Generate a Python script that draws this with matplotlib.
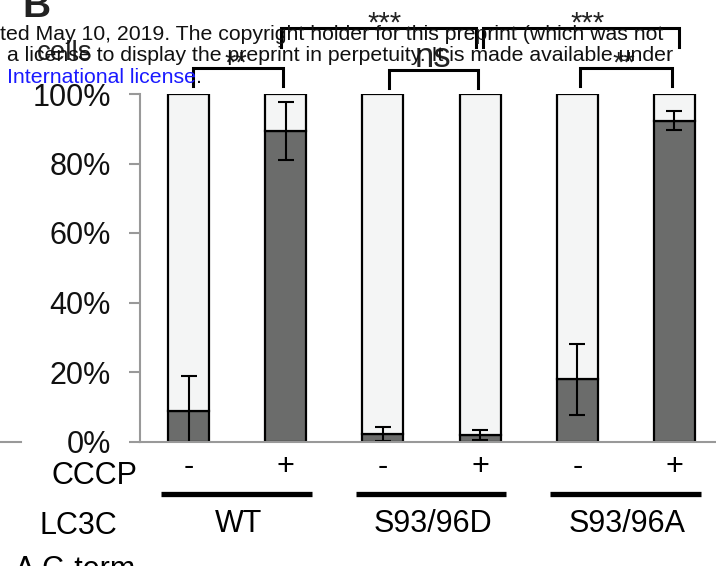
import matplotlib
matplotlib.use("Agg")
import matplotlib.pyplot as plt
from matplotlib.lines import Line2D

plt.rcParams['font.family'] = ['Liberation Sans', 'DejaVu Sans']

# Data
cccp = ['-', '+', '-', '+', '-', '+']
groups = ['WT', 'S93/96D', 'S93/96A']
dark_pct = [8.8, 89.4, 2.2, 1.9, 17.9, 92.3]
light_pct = [91.2, 10.6, 97.8, 98.1, 82.1, 7.7]
err_pct = [10.0, 8.3, 2.1, 1.5, 10.3, 2.7]
y_ticks = [0, 20, 40, 60, 80, 100]
y_labels = ['0%', '20%', '40%', '60%', '80%', '100%']
# significance brackets: left bar, right bar, label
sig_low = [(0, 1, '**'), (2, 3, 'ns'), (4, 5, '**')]
sig_high = [(1, 3, '***'), (3, 5, '***')]

W, H = 716, 566


def fx(px):
    return px / W


def fy(py):
    return 1 - py / H


fig = plt.figure(figsize=(W / 100, H / 100), dpi=100)
ax = fig.add_axes([fx(140), fy(441.5), fx(576), 347.5 / H])

x = list(range(len(cccp)))
ax.bar(x, dark_pct, width=0.42, color='#6b6c6b', edgecolor='black', linewidth=1.6, zorder=2)
ax.bar(x, light_pct, width=0.42, bottom=dark_pct, color='#f4f5f5', edgecolor='black',
       linewidth=1.6, zorder=2)
ax.errorbar(x, dark_pct, yerr=err_pct, fmt='none', ecolor='black', elinewidth=1.5,
            capsize=5.5, capthick=1.5, zorder=3)

ax.set_xlim(-0.499, 5.427)
ax.set_ylim(0, 100)
ax.set_xticks([])
ax.set_yticks(y_ticks)
ax.set_yticklabels(y_labels)
ax.tick_params(axis='y', length=8, width=1.5, color='#999999', pad=13, labelsize=22,
               labelcolor='#111111')
for s in ['top', 'right']:
    ax.spines[s].set_visible(False)
for s in ['left', 'bottom']:
    ax.spines[s].set_color('#999999')
    ax.spines[s].set_linewidth(1.5)
    ax.spines[s].set_zorder(4)

# significance brackets (lower row)
inset_low = [(0.045, -0.03), (0.06, -0.02), (0.03, -0.03)]
label_dx_low = [-0.01, 0.02, -0.025]
for (a, b, lab), (dl, dr), tdx in zip(sig_low, inset_low, label_dx_low):
    top = 106.9 if lab == 'ns' else 107.6
    ax.plot([a + dl, a + dl, b + dr, b + dr], [top - 5.3, top, top, top - 5.3],
            color='black', lw=2.2, clip_on=False, solid_joinstyle='miter')
    if lab == 'ns':
        ax.text((a + b) / 2 + tdx, 107.8, lab, ha='center', va='baseline', fontsize=25,
                color='#222222', clip_on=False)
    else:
        ax.text((a + b) / 2 + tdx, 106.6, lab, ha='center', va='baseline', fontsize=21,
                color='#222222', clip_on=False)

# significance brackets (upper row)
inset_high = [(-0.05, -0.04), (0.03, 0.05)]
label_dx_high = [0.02, 0.11]
for (a, b, lab), (dl, dr), tdx in zip(sig_high, inset_high, label_dx_high):
    ax.plot([a + dl, a + dl, b + dr, b + dr], [113.5, 118.9, 118.9, 113.5],
            color='black', lw=2.2, clip_on=False, solid_joinstyle='miter')
    ax.text((a + b) / 2 + tdx, 118.0, lab, ha='center', va='baseline', fontsize=21,
            color='#222222', clip_on=False)

# CCCP row
for xi, sign in zip(x, cccp):
    ax.text(xi, -7.2, sign, ha='center', va='center', fontsize=22, clip_on=False)
fig.text(fx(137), fy(484), 'CCCP', ha='right', va='baseline', fontsize=22)

# group bars and names
for gi, name in enumerate(groups):
    c = 2 * gi + 0.5
    ax.plot([c - 0.78, c + 0.77], [-15.1, -15.1], color='black', lw=3.8,
            solid_capstyle='butt', clip_on=False)
    ax.text(c + 0.01, -23.7, name, ha='center', va='center', fontsize=22, clip_on=False)
fig.text(fx(78), fy(533.5), 'LC3C', ha='center', va='baseline', fontsize=22)
fig.text(fx(75), fy(578.5), '\u0394 C-term', ha='center', va='baseline', fontsize=22)

# stub of a neighbouring panel's axis
fig.add_artist(Line2D([0, fx(21)], [fy(441.5), fy(441.5)], color='#999999', lw=1.5))

# panel letter and overlaid text from the page
fig.text(fx(22), fy(17), 'B', ha='left', va='baseline', fontsize=28, fontweight='bold',
         color='#222222')
fig.text(fx(37), fy(60.5), 'cells', ha='left', va='baseline', fontsize=20, color='#222222')
fig.text(fx(0), fy(40), 'ted May 10, 2019. The copyright holder for this preprint (which was not',
         ha='left', va='baseline', fontsize=15.3, color='#111111')
fig.text(fx(7), fy(61), 'a license to display the preprint in perpetuity. It is made available under',
         ha='left', va='baseline', fontsize=15.3, color='#111111')
fig.text(fx(7), fy(82.7), 'International license', ha='left', va='baseline', fontsize=15.3,
         color='#1a1aff')
fig.text(fx(196), fy(82.7), '.', ha='left', va='baseline', fontsize=15.3, color='#111111')

fig.savefig('out.png', dpi=100)
